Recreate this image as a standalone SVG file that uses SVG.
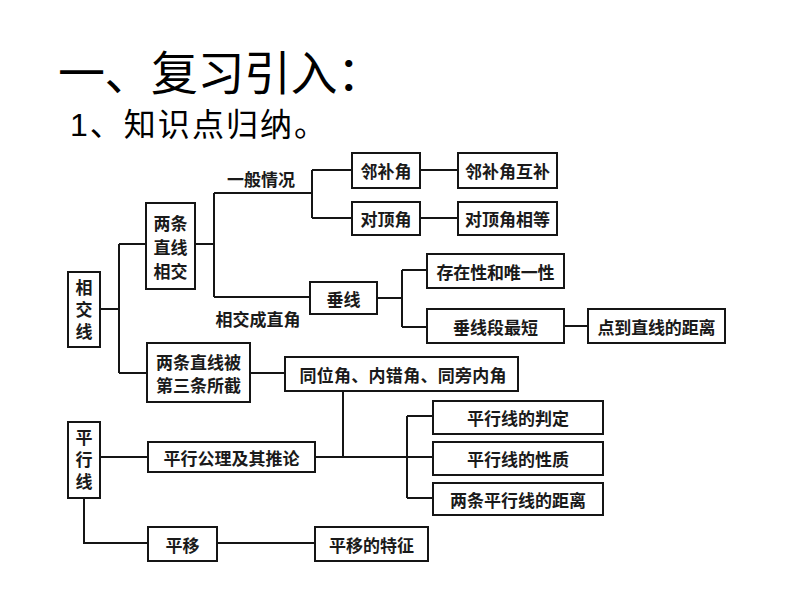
<svg xmlns="http://www.w3.org/2000/svg" width="794" height="596" viewBox="0 0 794 596">
<style>
.box{fill:#fff;stroke:#151515;stroke-width:2}
.ln{fill:none;stroke:#151515;stroke-width:2}
.t{font-family:"Noto Sans CJK SC","Liberation Sans",sans-serif;font-size:17px;font-weight:bold;fill:#1a1a1a;text-anchor:middle;dominant-baseline:central}
.v{writing-mode:vertical-rl;letter-spacing:5px;dominant-baseline:central}
.h1{font-family:"Liberation Sans","Noto Sans CJK SC",sans-serif;fill:#000}
</style>
<rect width="794" height="596" fill="#fff"/>
<text class="h1" x="58" y="90" font-size="47" textLength="326">一、复习引入：</text>
<text class="h1" x="70" y="136" font-size="32" textLength="256">1、知识点归纳。</text>

<g id="connectors">
<path class="ln" d="M100 309H119M119 244V373M119 244H146M119 373H147"/>
<path class="ln" d="M195 244H214M214 193V297M214 193H312M214 297H310"/>
<path class="ln" d="M312 170V218M312 170H352M312 218H352"/>
<path class="ln" d="M420 170H458M420 218H458"/>
<path class="ln" d="M377 298H402M402 270V327M402 270H427M402 327H427"/>
<path class="ln" d="M564 326H588"/>
<path class="ln" d="M250 373H285"/>
<path class="ln" d="M343 391V457M100 457H148M315 457H433M407 416V498M407 416H433M407 498H433"/>
<path class="ln" d="M84 498V543H148M217 543H315"/>
</g>
<g id="label-yiban"><text class="t" x="261" y="178" font-size="16">一般情况</text></g>
<g id="label-chuizhi"><text class="t" x="258" y="318" font-size="16">相交成直角</text></g>

<g id="xiangjiaoxian">
<rect class="box" x="68" y="272" width="32" height="75"/>
<text class="t v" x="84" y="312.5">相交线</text>
</g>
<g id="liangtiaoxiangjiao">
<rect class="box" x="146" y="203" width="49" height="86"/>
<text class="t" x="170.5" y="222">两条</text>
<text class="t" x="170.5" y="246">直线</text>
<text class="t" x="170.5" y="270">相交</text>
</g>
<g id="linbujiao">
<rect class="box" x="352" y="153" width="68" height="35"/>
<text class="t" x="386" y="170.5">邻补角</text>
</g>
<g id="duidingjiao">
<rect class="box" x="352" y="202" width="68" height="33"/>
<text class="t" x="386" y="218.5">对顶角</text>
</g>
<g id="linbujiaohubu">
<rect class="box" x="458" y="153" width="99" height="35"/>
<text class="t" x="507.5" y="170.5">邻补角互补</text>
</g>
<g id="duidingjiaoxiangdeng">
<rect class="box" x="458" y="202" width="99" height="33"/>
<text class="t" x="507.5" y="218.5">对顶角相等</text>
</g>
<g id="chuixian">
<rect class="box" x="310" y="282" width="67" height="32"/>
<text class="t" x="343.5" y="298">垂线</text>
</g>
<g id="cunzaixing">
<rect class="box" x="427" y="254" width="137" height="34"/>
<text class="t" x="495.5" y="271" textLength="118" lengthAdjust="spacing">存在性和唯一性</text>
</g>
<g id="chuixianduan">
<rect class="box" x="427" y="309" width="137" height="34"/>
<text class="t" x="495.5" y="326">垂线段最短</text>
</g>
<g id="diandaozhixian">
<rect class="box" x="588" y="309" width="137" height="34"/>
<text class="t" x="656.5" y="326" textLength="118" lengthAdjust="spacing">点到直线的距离</text>
</g>
<g id="sanxianjiao">
<rect class="box" x="147" y="343" width="103" height="59"/>
<text class="t" x="198.5" y="361">两条直线被</text>
<text class="t" x="198.5" y="384">第三条所截</text>
</g>
<g id="tongweijiao">
<rect class="box" x="285" y="357" width="233" height="34"/>
<text class="t" x="403" y="374" textLength="207" lengthAdjust="spacing">同位角、内错角、同旁内角</text>
</g>
<g id="pingxingxian">
<rect class="box" x="68" y="422" width="32" height="76"/>
<text class="t v" x="84" y="462">平行线</text>
</g>
<g id="pingxinggongli">
<rect class="box" x="148" y="442" width="167" height="30"/>
<text class="t" x="231.5" y="457">平行公理及其推论</text>
</g>
<g id="panding">
<rect class="box" x="433" y="401" width="170" height="33"/>
<text class="t" x="518" y="417.5">平行线的判定</text>
</g>
<g id="xingzhi">
<rect class="box" x="433" y="442" width="170" height="33"/>
<text class="t" x="518" y="458.5">平行线的性质</text>
</g>
<g id="juli">
<rect class="box" x="433" y="483" width="170" height="32"/>
<text class="t" x="518" y="499">两条平行线的距离</text>
</g>
<g id="pingyi">
<rect class="box" x="148" y="527" width="69" height="34"/>
<text class="t" x="182.5" y="544">平移</text>
</g>
<g id="pingyitezheng">
<rect class="box" x="315" y="527" width="113" height="34"/>
<text class="t" x="371.5" y="544">平移的特征</text>
</g>
</svg>
